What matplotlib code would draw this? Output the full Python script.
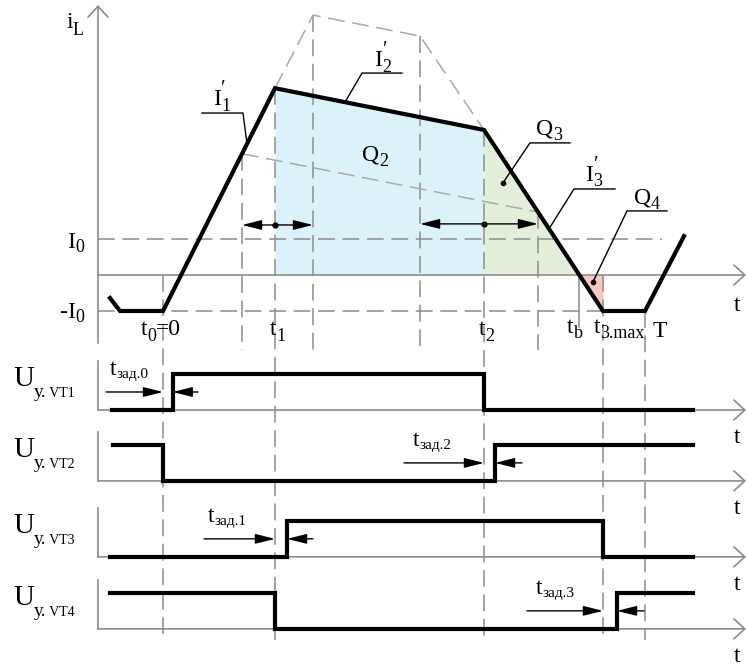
import matplotlib.pyplot as plt
import numpy as np

plt.rcParams['font.family'] = ['Liberation Serif', 'DejaVu Serif']

# time in arbitrary units (t0 = 0), current in units of I0
t0, t1, t2, tb, t3max, T = 0.0, 11.2, 32.1, 41.6, 44.0, 48.2

# inductor current i_L
il_t = [-5.3, -4.3, t0, t1, t2, t3max, T, 52.1]
il_i = [-0.64, -1.0, -1.0, 5.19, 4.03, -1.0, -1.0, 1.08]

# dashed envelope above the current and the I'1-I'3 dashed line
env_t = [t1, 15.0, 25.7, t2]
env_i = [5.19, 7.22, 6.64, 4.03]
ip_t = [7.9, 37.5]
ip_i = [3.37, 1.75]

# gate signals (step, value holds until next time)
vt1_t = [-5.1, 0.97, t2, 53.0]
vt1_u = [0, 1, 0, 0]
vt2_t = [-5.0, t0, 33.2, 53.0]
vt2_u = [1, 0, 1, 1]
vt3_t = [-5.3, 12.4, t3max, 53.0]
vt3_u = [0, 1, 0, 0]
vt4_t = [-5.3, t1, 45.4, 53.0]
vt4_u = [1, 0, 1, 1]

GRAY = '#8c8c8c'
LGRAY = '#a8a8a8'
DASH = (11, 5)
AX_T = -6.5          # position of the vertical axes
T_END = 58.3         # end of the time axes
BASES = [-3.75, -5.72, -7.83, -9.83]   # baselines of the gate panels
LOW = -10.14

fig = plt.figure(figsize=(7.47, 6.67), dpi=100)
ax = fig.add_axes([0, 0, 1, 1])
ax.set_xlim(-16.3, 58.4)
ax.set_ylim(-10.89, 7.64)
ax.axis('off')
renderer = fig.canvas.get_renderer()


def il(t):
    return float(np.interp(t, il_t, il_i))


def rich(x, y, parts, ha='left'):
    """Draw text pieces one after another: (text, size, raise_pt[, advance])."""
    widths = []
    for p in parts:
        tmp = ax.text(0, 0, p[0], fontsize=p[1])
        w = tmp.get_window_extent(renderer).width * 72 / fig.dpi
        tmp.remove()
        widths.append(w if (len(p) < 4 or p[3]) else 0)
    total = sum(widths)
    off = {'left': 0, 'center': -total / 2, 'right': -total}[ha]
    for p, w in zip(parts, widths):
        ax.annotate(p[0], (x, y), xytext=(off, p[2]), textcoords='offset points',
                    fontsize=p[1], ha='left', va='baseline')
        off += w


def sub(base, s, size=17, ssize=13, drop=-4):
    return [(base, size, 0), (s, ssize, drop)]


def primed(base, s, size=17, ssize=13):
    return [(base, size, 0), ('\u2032', 15, 8, False), (s, ssize, -4)]


def open_arrow(x0, y0, x1, y1):
    ax.annotate('', xy=(x1, y1), xytext=(x0, y0),
                arrowprops=dict(arrowstyle='->,head_length=0.6,head_width=0.55',
                                color=GRAY, lw=1.2, mutation_scale=13,
                                shrinkA=0, shrinkB=0))


def solid_arrow(x0, x1, y):
    ax.annotate('', xy=(x1, y), xytext=(x0, y),
                arrowprops=dict(arrowstyle='-|>,head_length=1.0,head_width=0.25',
                                color='black', lw=1.0, mutation_scale=12,
                                shrinkA=0, shrinkB=0))


# shaded charge areas
for a, b, col in [(t1, t2, '#dcf2fb'), (t2, tb, '#e2f0da'), (tb, t3max, '#f9c6c6')]:
    ax.fill_between([a, b], 0, [il(a), il(b)], color=col, lw=0, zorder=0)

# main axes
open_arrow(AX_T, -1.89, AX_T, 7.5)
open_arrow(AX_T, 0, T_END, 0)
ax.plot([AX_T, 49.9], [1, 1], color=GRAY, lw=1.1, dashes=DASH)
ax.plot([AX_T, t3max], [-1, -1], color=GRAY, lw=1.1, dashes=DASH)

# vertical guide lines
long_lines = [(t0, 0), (t1, il(t1)), (t2, il(t2)), (t3max, 0), (T, -1)]
for t, top in long_lines:
    ax.plot([t, t], [top, LOW], color=GRAY, lw=1.1, dashes=DASH, zorder=1)
short_lines = [(ip_t[0], ip_i[0]), (env_t[1], env_i[1]), (env_t[2], env_i[2]), (ip_t[1], ip_i[1])]
for t, top in short_lines:
    ax.plot([t, t], [top, -2.08], color=GRAY, lw=1.1, dashes=DASH, zorder=1)
ax.plot([tb, tb], [0, -1.45], color=GRAY, lw=1.1, zorder=1)

# dashed envelope and I' line
ax.plot(env_t, env_i, color=LGRAY, lw=1.1, dashes=DASH)
ax.plot(ip_t, ip_i, color=LGRAY, lw=1.1, dashes=DASH)

# inductor current
ax.plot(il_t, il_i, color='black', lw=3, solid_joinstyle='miter', zorder=4)

# delay intervals on the current plot
for a, m, b, y in [(ip_t[0], t1, env_t[1], 1.39), (env_t[2], t2, ip_t[1], 1.42)]:
    solid_arrow(m, a, y)
    solid_arrow(m, b, y)
    ax.plot([m], [y], 'o', color='black', ms=3.5)

# labelled leaders: (label, target time, target level, knee x, knee y, end x, text x, text y, dot)
leaders = [
    (primed('I', '1'), 8.4, None, 8.0, 4.5, 3.9, 5.9, 4.72, False),
    (primed('I', '2'), 18.2, None, 19.9, 5.61, 23.9, 22.0, 5.8, False),
    (sub('Q', '3'), 34.0, 2.56, 36.7, 3.67, 40.7, 38.6, 3.9, True),
    (primed('I', '3'), 38.6, None, 41.1, 2.39, 45.2, 43.1, 2.62, False),
    (sub('Q', '4'), 43.0, -0.19, 46.4, 1.78, 50.4, 48.4, 2.0, True),
]
for parts, tt, lvl, kx, ky, ex, tx, ty, dot in leaders:
    yt = il(tt) if lvl is None else lvl
    ax.plot([tt, kx, ex], [yt, ky, ky], color='black', lw=1.0, zorder=5)
    if dot:
        ax.plot([tt], [yt], 'o', color='black', ms=3, zorder=5)
    rich(tx, ty, parts, ha='center')

rich(21.2, 3.19, sub('Q', '2'), ha='center')

# axis labels of the current plot
rich(-9.7, 6.86, sub('i', 'L', drop=-5), ha='left')
rich(-7.9, 0.75, sub('I', '0', drop=-3), ha='right')
rich(-7.9, -1.19, [('-', 17, 0), ('I', 17, 0), ('0', 13, -3)], ha='right')
rich(-0.2, -1.67, [('t', 17, 0), ('0', 13, -4), ('=0', 17, 0)], ha='center')
rich(11.5, -1.67, sub('t', '1'), ha='center')
rich(32.4, -1.67, sub('t', '2'), ha='center')
rich(41.2, -1.6, sub('t', 'b'), ha='center')
rich(43.1, -1.6, sub('t', '3.max'), ha='left')
rich(49.7, -1.72, [('T', 17, 0)], ha='center')
ax.text(57.4, -0.86, 't', fontsize=17, ha='center', va='center')

# gate signal panels
signals = [(vt1_t, vt1_u, 'VT1'), (vt2_t, vt2_u, 'VT2'),
           (vt3_t, vt3_u, 'VT3'), (vt4_t, vt4_u, 'VT4')]
for (ts, us, name), base in zip(signals, BASES):
    ax.plot([AX_T, AX_T], [base, base + 1.35], color=GRAY, lw=1.2)
    open_arrow(AX_T, base, T_END, base)
    ax.step(ts, np.array(us) + base, where='post', color='black', lw=3,
            solid_joinstyle='miter', zorder=4)
    rich(-15.0, base + 0.66, [('U', 21, 0), ('у.', 14, -8), (' ' + name, 10, -8)])
    ax.text(57.4, base - 0.76, 't', fontsize=17, ha='center', va='center')

# switching delays: (delay name, label x, edge before, delayed edge, arrow tails)
delays = [
    ('зад.0', -5.3, t0, vt1_t[1], -5.7, 3.5),
    ('зад.2', 25.0, t2, vt2_t[2], 24.1, 35.9),
    ('зад.1', 4.5, t1, vt3_t[1], 4.1, 15.0),
    ('зад.3', 37.3, t3max, vt4_t[2], 36.4, 48.1),
]
for (name, lx, ea, eb, xa, xb), base in zip(delays, BASES):
    y = base + 0.5
    solid_arrow(xa, ea, y)
    solid_arrow(xb, eb, y)
    rich(lx, base + 0.97, [('t', 17, 0), (name, 11, -2)])

fig.savefig('out.png', dpi=100)
